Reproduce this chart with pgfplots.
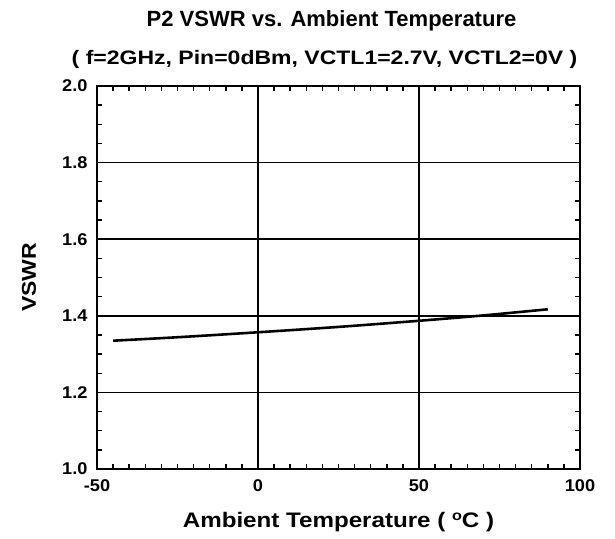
\documentclass[border=0pt]{standalone}
\usepackage{pgfplots}
\pgfplotsset{compat=1.18}
\usepackage{fontspec}
\setmainfont{Liberation Sans}
% the reference text runs a bit wide, so stretch it
\newfontfamily\tickfont[FakeStretch=1.07]{Liberation Sans}
\newfontfamily\labfont[FakeStretch=1.15]{Liberation Sans}
\newfontfamily\subfont[FakeStretch=1.18]{Liberation Sans}
\begin{document}
\begin{tikzpicture}
\begin{axis}[
    scale only axis,
    width=483bp, height=383bp,
    xmin=-50, xmax=100, ymin=1.0, ymax=2.0,
    xtick={-50,0,50,100},
    ytick={1.0,1.2,1.4,1.6,1.8,2.0},
    minor x tick num=9,
    minor y tick num=3,
    tick align=inside,
    major tick length=0pt,
    minor tick length=5bp,
    grid=major,
    major grid style={black, line width=1.5pt},
    axis line style={line width=2.4pt},
    every tick/.style={black, line width=1.5pt},
    xticklabel={\pgfmathprintnumber[assume math mode=true]{\tick}},
    yticklabel={\pgfmathprintnumber[assume math mode=true, fixed, fixed zerofill, precision=1]{\tick}},
    yticklabel style={xshift=-6bp},
    xticklabel style={yshift=-7bp},
    ticklabel style={font=\tickfont\bfseries\fontsize{17bp}{19bp}\selectfont},
    xlabel={Ambient Temperature ( \raisebox{0.55ex}{\fontsize{14bp}{14bp}\selectfont o}C )},
    ylabel={VSWR},
    xlabel style={font=\labfont\bfseries\fontsize{21bp}{23bp}\selectfont,
        at={(axis description cs:0.5,0)}, anchor=base, yshift=-58bp},
    ylabel style={font=\labfont\bfseries\fontsize{20bp}{22bp}\selectfont,
        at={(axis description cs:0,0.5)}, anchor=center, yshift=68bp},
]
\addplot[black, line width=2.6pt, smooth] coordinates {
    (-45,1.335) (-25,1.344) (0,1.357) (25,1.371) (50,1.387) (70,1.401) (90,1.417)
};
\end{axis}
\node[anchor=base, font=\bfseries\fontsize{22bp}{24bp}\selectfont]
    at ([xshift=-7bp, yshift=59bp]current axis.north) {P2 VSWR vs. Ambient Temperature};
\node[anchor=base, font=\subfont\bfseries\fontsize{19.5bp}{22bp}\selectfont]
    at ([xshift=-14bp, yshift=21bp]current axis.north) {( f=2GHz, Pin=0dBm, VCTL1=2.7V, VCTL2=0V )};
\path ([xshift=-97bp, yshift=-70bp]current axis.south west)
    rectangle ([xshift=35bp, yshift=86bp]current axis.north east);
\end{tikzpicture}
\end{document}
